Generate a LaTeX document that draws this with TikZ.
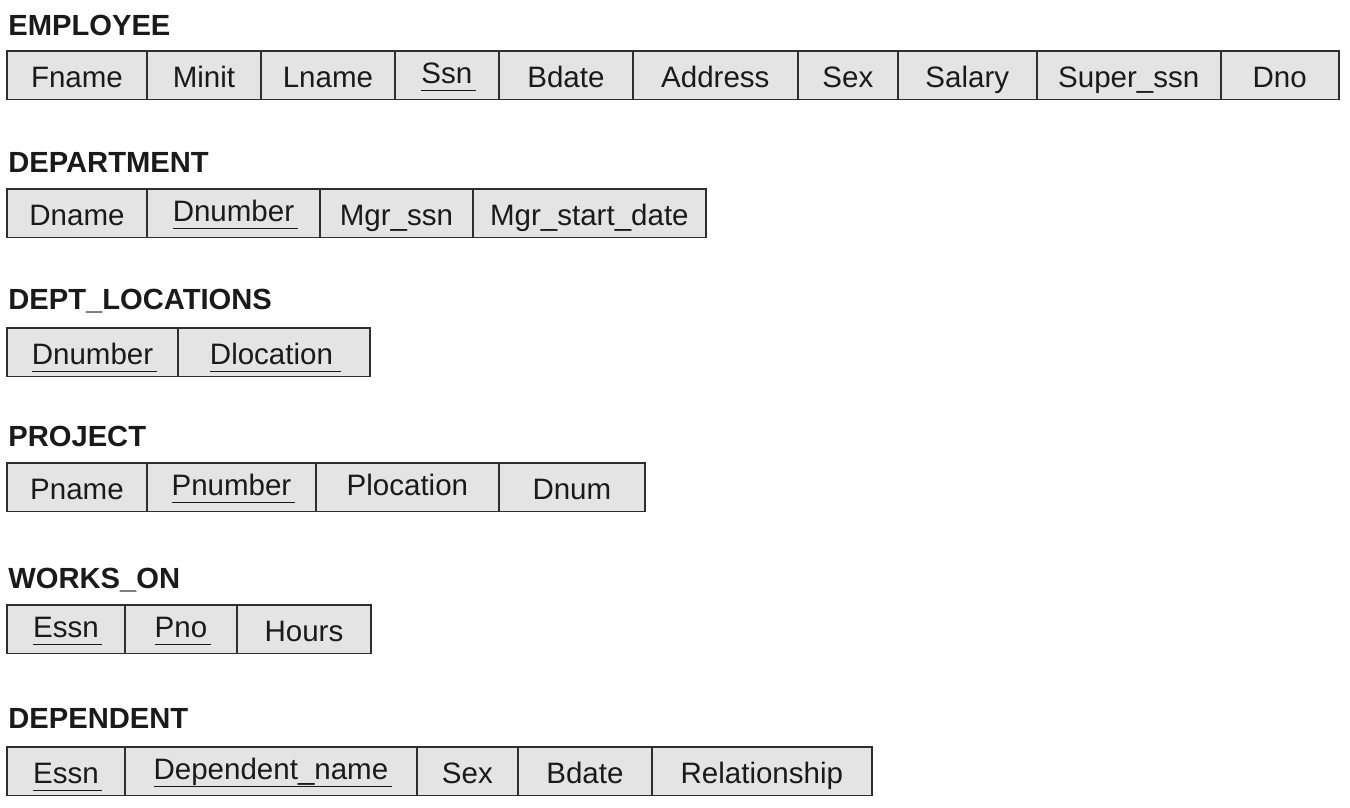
\documentclass[tikz,border=0pt]{standalone}
\usepackage{fontspec}
\setmainfont{Liberation Sans}
\usepackage{tikz}
\usetikzlibrary{positioning}

\definecolor{cellfill}{HTML}{E4E4E4}
\definecolor{cellline}{HTML}{2E2E2E}
\definecolor{inktext}{HTML}{1A1A1A}

% underlined key attribute
\newcommand{\pkey}[1]{\setbox0=\hbox{#1}\rlap{\rule[-4.4pt]{\dimexpr\wd0+2pt\relax}{0.85pt}}\box0}

\begin{document}
\begin{tikzpicture}[x=0.02cm, y=-0.02cm, node distance=0pt,
		attr/.style={draw=cellline, fill=cellfill, line width=0.9pt, rectangle, outer sep=0pt, inner sep=0pt,
			minimum height=0.97cm, text=inktext, font=\fontsize{16.8}{19}\selectfont, text height=14.6pt, text depth=0.4pt},
		raised/.style={text height=10pt, text depth=0.5pt},
		relname/.style={anchor=base west, inner sep=0pt, text=inktext, font=\fontsize{16.6}{19}\selectfont\bfseries}]

		\useasboundingbox (0,0) rectangle (1350,808);

		% Employee
		\begin{scope}
			\node (emp_title) at (8, 35) [relname] {EMPLOYEE};
			\node (emp_fname) at (7, 51) [attr, anchor=north west, minimum width=2.80cm] {Fname};
			\node (emp_minit) [attr, right=of emp_fname, minimum width=2.28cm] {Minit};
			\node (emp_lname) [attr, right=of emp_minit, minimum width=2.68cm] {Lname};
			\node (emp_ssn) [attr, raised, right=of emp_lname, minimum width=2.08cm] {\pkey{Ssn}};
			\node (emp_bdate) [attr, right=of emp_ssn, minimum width=2.68cm] {Bdate};
			\node (emp_address) [attr, right=of emp_bdate, minimum width=3.30cm] {Address};
			\node (emp_sex) [attr, right=of emp_address, minimum width=2.00cm] {Sex};
			\node (emp_salary) [attr, right=of emp_sex, minimum width=2.78cm] {Salary};
			\node (emp_superssn) [attr, right=of emp_salary, minimum width=3.68cm] {Super\_ssn};
			\node (emp_dno) [attr, right=of emp_superssn, minimum width=2.36cm] {Dno};
		\end{scope}

		% Department
		\begin{scope}
			\node (dept_title) at (8, 172) [relname] {DEPARTMENT};
			\node (dept_dname) at (7, 189) [attr, anchor=north west, minimum width=2.80cm] {Dname};
			\node (dept_dnumber) [attr, raised, right=of dept_dname, minimum width=3.46cm] {\pkey{Dnumber}};
			\node (dept_mgrssn) [attr, right=of dept_dnumber, minimum width=3.06cm] {Mgr\_ssn};
			\node (dept_mgrstart) [attr, right=of dept_mgrssn, minimum width=4.66cm] {Mgr\_start\_date};
		\end{scope}

		% Dept locations
		\begin{scope}
			\node (dloc_title) at (8, 309) [relname] {DEPT\_LOCATIONS};
			\node (dloc_dnumber) at (7, 328) [attr, anchor=north west, minimum width=3.42cm] {\pkey{Dnumber}};
			\node (dloc_dlocation) [attr, right=of dloc_dnumber, minimum width=3.84cm] {\pkey{Dlocation\,}};
		\end{scope}

		% Project
		\begin{scope}
			\node (proj_title) at (8, 446) [relname] {PROJECT};
			\node (proj_pname) at (7, 463) [attr, anchor=north west, minimum width=2.80cm] {Pname};
			\node (proj_pnumber) [attr, raised, right=of proj_pname, minimum width=3.38cm] {\pkey{Pnumber}};
			\node (proj_plocation) [attr, raised, right=of proj_pnumber, minimum width=3.66cm] {Plocation};
			\node (proj_dnum) [attr, right=of proj_plocation, minimum width=2.92cm] {Dnum};
		\end{scope}

		% Works on
		\begin{scope}
			\node (works_title) at (8, 588) [relname] {WORKS\_ON};
			\node (works_essn) at (7, 605) [attr, raised, anchor=north west, minimum width=2.36cm] {\pkey{Essn}};
			\node (works_pno) [attr, raised, right=of works_essn, minimum width=2.24cm] {\pkey{Pno}};
			\node (works_hours) [attr, right=of works_pno, minimum width=2.68cm] {Hours};
		\end{scope}

		% Dependent
		\begin{scope}
			\node (dep_title) at (8, 728) [relname] {DEPENDENT};
			\node (dep_essn) at (7, 747) [attr, anchor=north west, minimum width=2.36cm] {\pkey{Essn}};
			\node (dep_name) [attr, raised, right=of dep_essn, minimum width=5.84cm] {\pkey{Dependent\_name}};
			\node (dep_sex) [attr, right=of dep_name, minimum width=2.02cm] {Sex};
			\node (dep_bdate) [attr, right=of dep_sex, minimum width=2.68cm] {Bdate};
			\node (dep_relationship) [attr, right=of dep_bdate, minimum width=4.40cm] {Relationship};
		\end{scope}

	\end{tikzpicture}
\end{document}
